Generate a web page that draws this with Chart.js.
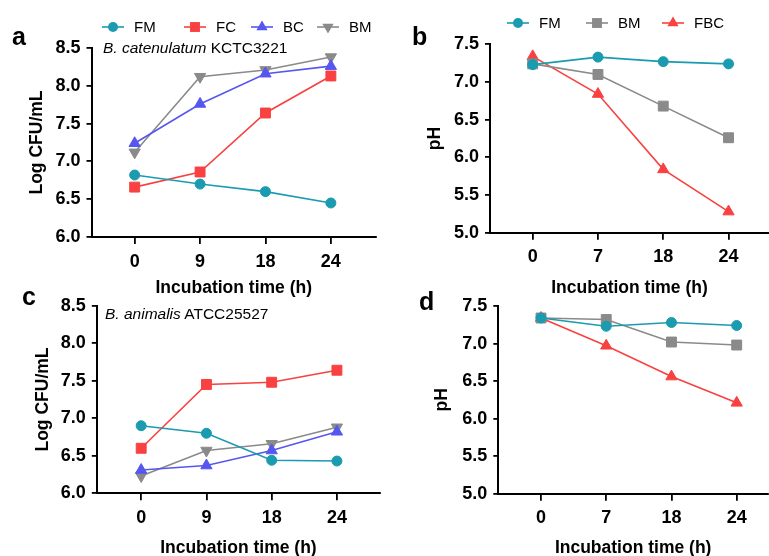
<!DOCTYPE html>
<html>
<head>
<meta charset="utf-8">
<script src="https://cdn.jsdelivr.net/npm/chart.js"></script>
<style>
body{margin:0;width:769px;height:556px;overflow:hidden;background:#fff;position:relative;font-family:"Liberation Sans",Arial,sans-serif}
canvas{position:absolute}
.lbl{position:absolute;font-weight:bold;font-size:25px;line-height:1}
.note{position:absolute;font-size:15.5px;line-height:1;white-space:nowrap}
</style>
</head>
<body>
<canvas id="ca" width="385" height="300" style="left:0;top:0"></canvas>
<canvas id="cb" width="393" height="300" style="left:385px;top:0"></canvas>
<canvas id="cc" width="389" height="300" style="left:0;top:260px"></canvas>
<canvas id="cd" width="392" height="300" style="left:385px;top:260px"></canvas>

<div class="lbl" style="left:12px;top:24px">a</div>
<div class="lbl" style="left:412px;top:24px">b</div>
<div class="lbl" style="left:22px;top:284px">c</div>
<div class="lbl" style="left:419px;top:289px">d</div>
<div class="note" style="left:103px;top:40px"><i>B. catenulatum</i> KCTC3221</div>
<div class="note" style="left:105px;top:306px"><i>B. animalis</i> ATCC25527</div>

<script>
// time points (h), shown as evenly spaced categories
var growthTimes = ['0', '9', '18', '24'];
var phTimes = ['0', '7', '18', '24'];

// a: B. catenulatum, Log CFU/mL
var aFM = [6.82, 6.70, 6.60, 6.45];
var aFC = [6.66, 6.86, 7.64, 8.13];
var aBC = [7.24, 7.76, 8.16, 8.26];
var aBM = [7.12, 8.12, 8.21, 8.38];

// b: pH
var bFM = [7.23, 7.33, 7.27, 7.24];
var bBM = [7.24, 7.10, 6.68, 6.26];
var bFBC = [7.34, 6.84, 5.84, 5.28];

// c: B. animalis, Log CFU/mL
var cFM = [6.90, 6.80, 6.44, 6.43];
var cFC = [6.60, 7.45, 7.48, 7.64];
var cBC = [6.31, 6.37, 6.57, 6.82];
var cBM = [6.23, 6.57, 6.66, 6.88];

// d: pH
var dFM = [7.34, 7.23, 7.28, 7.24];
var dBM = [7.34, 7.32, 7.02, 6.98];
var dFBC = [7.34, 6.97, 6.56, 6.21];

var growthTicks = [6.0, 6.5, 7.0, 7.5, 8.0, 8.5];
var phTicks = [5.0, 5.5, 6.0, 6.5, 7.0, 7.5];

var teal = '#1a9bb0';
var red = '#f94141';
var blue = '#5656f0';
var gray = '#8a8a8a';
var FONT = '"Liberation Sans", Arial, sans-serif';

function series(label, values, color, style, rot, r){
    return {
        label: label,
        data: values.map(function(v, i){ return {x: i, y: v}; }),
        borderColor: color,
        backgroundColor: color,
        borderWidth: 1.6,
        pointStyle: style,
        pointRotation: rot,
        pointRadius: r,
        pointHoverRadius: r,
        pointBorderWidth: 1,
        tension: 0
    };
}

function drawMark(ctx, style, rot, r, x, y){
    ctx.save();
    ctx.translate(x, y);
    ctx.rotate(rot * Math.PI / 180);
    ctx.beginPath();
    if(style == 'circle'){
        ctx.arc(0, 0, r, 0, Math.PI * 2);
    }else if(style == 'rect'){
        var s = r * Math.SQRT1_2;
        ctx.rect(-s, -s, 2 * s, 2 * s);
    }else{
        for(var k = 0; k < 3; k++){
            var a = k * 2 * Math.PI / 3;
            if(k == 0) ctx.moveTo(Math.sin(a) * r, -Math.cos(a) * r);
            else ctx.lineTo(Math.sin(a) * r, -Math.cos(a) * r);
        }
        ctx.closePath();
    }
    ctx.fill();
    ctx.restore();
}

// legend with a line through the marker, like the figure
var lineLegend = {
    id: 'lineLegend',
    afterDraw: function(chart, args, opts){
        if(!opts.xs) return;
        var ctx = chart.ctx;
        ctx.save();
        chart.data.datasets.forEach(function(ds, i){
            var x = opts.xs[i], y = opts.y;
            ctx.strokeStyle = ds.borderColor;
            ctx.fillStyle = ds.borderColor;
            ctx.lineWidth = 1.6;
            ctx.beginPath();
            ctx.moveTo(x - 11, y);
            ctx.lineTo(x + 11, y);
            ctx.stroke();
            drawMark(ctx, ds.pointStyle, ds.pointRotation, ds.pointRadius, x, y);
            ctx.fillStyle = '#000';
            ctx.font = '15px ' + FONT;
            ctx.textBaseline = 'middle';
            ctx.fillText(ds.label, x + 21, y + 1);
        });
        ctx.restore();
    }
};

function makePanel(id, labels, datasets, yTicks, yTitle, g, legend){
    var ctx = document.getElementById(id).getContext('2d');
    return new Chart(ctx, {
        type: 'line',
        data: { datasets: datasets },
        plugins: [lineLegend],
        options: {
            responsive: false,
            animation: false,
            layout: { padding: { left: g.padL, top: g.padT, right: g.padR, bottom: g.padB } },
            plugins: {
                legend: { display: false },
                tooltip: { enabled: false },
                lineLegend: legend
            },
            scales: {
                x: {
                    type: 'linear',
                    min: g.xMin,
                    max: g.xMax,
                    afterBuildTicks: function(scale){
                        scale.ticks = labels.map(function(l, i){ return {value: i}; });
                    },
                    afterFit: function(scale){ scale.height = g.xH; },
                    ticks: {
                        color: '#000',
                        padding: 7,
                        font: { family: FONT, size: 18, weight: 'bold' },
                        callback: function(v){ return labels[v]; }
                    },
                    grid: { drawOnChartArea: false, drawTicks: true, tickLength: 7, color: '#000', lineWidth: 1.8 },
                    border: { color: '#000', width: 2 },
                    title: {
                        display: true,
                        text: 'Incubation time (h)',
                        color: '#000',
                        padding: 0,
                        font: { family: FONT, size: 17.5, weight: 'bold' }
                    }
                },
                y: {
                    min: yTicks[0],
                    max: yTicks[yTicks.length - 1],
                    afterBuildTicks: function(scale){
                        scale.ticks = yTicks.map(function(v){ return {value: v}; });
                    },
                    afterFit: function(scale){ scale.width = g.yW; },
                    ticks: {
                        color: '#000',
                        padding: 6,
                        font: { family: FONT, size: 18, weight: 'bold' },
                        callback: function(v){ return v.toFixed(1); }
                    },
                    grid: { drawOnChartArea: false, drawTicks: true, tickLength: 5, color: '#000', lineWidth: 1.8 },
                    border: { color: '#000', width: 2 },
                    title: {
                        display: true,
                        text: yTitle,
                        color: '#000',
                        padding: 0,
                        font: { family: FONT, size: 17.5, weight: 'bold' }
                    }
                }
            }
        }
    });
}

makePanel('ca', growthTimes, [
    series('FM', aFM, teal, 'circle', 0, 5),
    series('FC', aFC, red, 'rect', 0, 7),
    series('BC', aBC, blue, 'triangle', 0, 6.5),
    series('BM', aBM, gray, 'triangle', 180, 6.5)
], growthTicks, 'Log CFU/mL',
{ padL: 26.5, padT: 48, padR: 9, padB: 1.5, yW: 65, xH: 61.5, xMin: -0.66, xMax: 3.69 },
{ y: 27, xs: [113, 195, 262, 328] });

makePanel('cb', phTimes, [
    series('FM', bFM, teal, 'circle', 0, 5),
    series('BM', bBM, gray, 'rect', 0, 7),
    series('FBC', bFBC, red, 'triangle', 0, 6.5)
], phTicks, 'pH',
{ padL: 39.5, padT: 44.3, padR: 9, padB: 1.5, yW: 65.5, xH: 65.8, xMin: -0.654, xMax: 3.62 },
{ y: 23, xs: [133, 212, 288] });

makePanel('cc', growthTimes, [
    series('FM', cFM, teal, 'circle', 0, 5),
    series('FC', cFC, red, 'rect', 0, 7),
    series('BC', cBC, blue, 'triangle', 0, 6.5),
    series('BM', cBM, gray, 'triangle', 180, 6.5)
], growthTicks, 'Log CFU/mL',
{ padL: 32.8, padT: 45.7, padR: 9, padB: 1.5, yW: 64, xH: 65.2, xMin: -0.68, xMax: 3.66 },
{});

makePanel('cd', phTimes, [
    series('FM', dFM, teal, 'circle', 0, 5),
    series('BM', dBM, gray, 'rect', 0, 7),
    series('FBC', dFBC, red, 'triangle', 0, 6.5)
], phTicks, 'pH',
{ padL: 46.2, padT: 46, padR: 9, padB: 1.5, yW: 67.1, xH: 64.8, xMin: -0.655, xMax: 3.48 },
{});
</script>
</body>
</html>
